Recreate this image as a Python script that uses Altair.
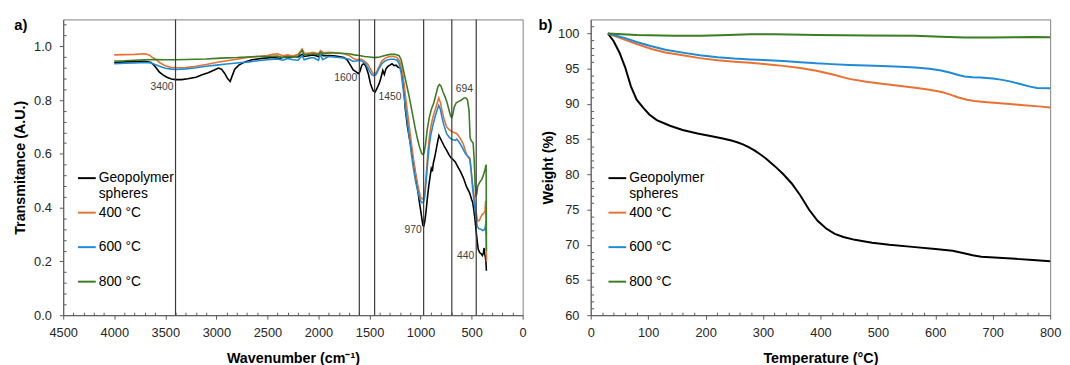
import altair as alt
import pandas as pd

SERIES = ["Geopolymer spheres", "400 °C", "600 °C", "800 °C"]
COLORS = ["#000000", "#E97132", "#1F8AD6", "#3B7D23"]
FONT = "Liberation Sans"

# ---------------- FTIR (panel a) ----------------
geo_wn = [4000, 3900, 3800, 3700, 3640, 3600, 3560, 3520, 3480, 3440, 3400, 3340, 3280, 3200, 3140,
          3080, 3020, 2980, 2950, 2920, 2890, 2865, 2845, 2820, 2780, 2720, 2650, 2550, 2450, 2380,
          2340, 2300, 2250, 2200, 2160, 2140, 2100, 2050, 2000, 1980, 1950, 1900, 1850, 1800, 1750,
          1720, 1690, 1660, 1630, 1610, 1595, 1575, 1555, 1535, 1510, 1490, 1465, 1445, 1425, 1405,
          1390, 1370, 1355, 1340, 1320, 1300, 1280, 1260, 1240, 1220, 1200, 1180, 1165, 1150, 1130,
          1110, 1090, 1065, 1040, 1015, 995, 978, 970, 960, 948, 935, 920, 905, 895, 885,
          875, 860, 845, 830, 820, 810, 790, 770, 740, 720, 700, 680, 660, 640, 610,
          580, 550, 520, 500, 490, 478, 468, 455, 445, 435, 420, 405, 395, 385, 378,
          372, 365, 360, 355]
geo_tr = [0.940, 0.942, 0.943, 0.944, 0.940, 0.925, 0.905, 0.893, 0.884, 0.878, 0.876, 0.876, 0.879, 0.885, 0.894,
          0.902, 0.912, 0.919, 0.915, 0.900, 0.880, 0.869, 0.890, 0.915, 0.930, 0.942, 0.950, 0.955, 0.958, 0.955,
          0.960, 0.958, 0.962, 0.960, 0.970, 0.962, 0.965, 0.968, 0.962, 0.970, 0.965, 0.966, 0.965, 0.962, 0.958,
          0.950, 0.932, 0.912, 0.905, 0.898, 0.905, 0.930, 0.936, 0.925, 0.895, 0.860, 0.835, 0.830, 0.845, 0.862,
          0.880, 0.910, 0.895, 0.915, 0.925, 0.930, 0.935, 0.928, 0.930, 0.922, 0.920, 0.900, 0.850, 0.770, 0.705,
          0.660, 0.620, 0.560, 0.500, 0.430, 0.380, 0.335, 0.330, 0.345, 0.380, 0.430, 0.480, 0.520, 0.545, 0.535,
          0.565, 0.590, 0.620, 0.650, 0.668, 0.660, 0.645, 0.630, 0.610, 0.595, 0.585, 0.578, 0.570, 0.555, 0.535,
          0.510, 0.478, 0.455, 0.430, 0.420, 0.390, 0.360, 0.310, 0.275, 0.245, 0.232, 0.228, 0.222, 0.230, 0.250,
          0.228, 0.215, 0.200, 0.165]

c400_wn = [4000, 3900, 3800, 3700, 3660, 3630, 3590, 3550, 3500, 3450, 3400, 3300, 3200, 3100, 3000,
           2900, 2800, 2700, 2600, 2500, 2450, 2400, 2350, 2300, 2250, 2200, 2160, 2140, 2100, 2050,
           2000, 1980, 1950, 1900, 1850, 1800, 1750, 1700, 1660, 1630, 1600, 1580, 1550, 1520, 1490,
           1465, 1450, 1430, 1410, 1380, 1350, 1320, 1290, 1260, 1230, 1205, 1185, 1165, 1150, 1130,
           1110, 1090, 1070, 1045, 1020, 1000, 985, 970, 958, 945, 930, 915, 900, 880, 860,
           840, 822, 805, 790, 770, 745, 720, 700, 680, 660, 645, 625, 600, 580, 560,
           545, 530, 515, 500, 485, 470, 455, 440, 425, 410, 395, 380, 370, 362, 358,
           355]
c400_tr = [0.968, 0.969, 0.970, 0.972, 0.968, 0.960, 0.950, 0.938, 0.928, 0.922, 0.920, 0.921, 0.926, 0.932, 0.940,
           0.946, 0.952, 0.958, 0.962, 0.966, 0.970, 0.972, 0.965, 0.968, 0.964, 0.970, 0.990, 0.975, 0.974, 0.978,
           0.972, 0.984, 0.976, 0.978, 0.977, 0.975, 0.972, 0.966, 0.955, 0.950, 0.952, 0.952, 0.945, 0.935, 0.915,
           0.898, 0.895, 0.905, 0.922, 0.945, 0.955, 0.960, 0.962, 0.962, 0.958, 0.945, 0.920, 0.870, 0.820, 0.760,
           0.700, 0.640, 0.580, 0.520, 0.470, 0.440, 0.432, 0.436, 0.460, 0.520, 0.600, 0.660, 0.700, 0.735, 0.760,
           0.785, 0.808, 0.790, 0.760, 0.730, 0.700, 0.690, 0.685, 0.680, 0.678, 0.675, 0.665, 0.650, 0.635, 0.610,
           0.595, 0.585, 0.580, 0.520, 0.470, 0.430, 0.380, 0.350, 0.352, 0.365, 0.375, 0.380, 0.385, 0.425, 0.300,
           0.200]

c600_wn = [4000, 3900, 3800, 3700, 3640, 3600, 3550, 3500, 3440, 3400, 3300, 3200, 3100, 3000, 2900,
           2800, 2700, 2600, 2500, 2400, 2350, 2300, 2250, 2200, 2160, 2140, 2100, 2050, 2000, 1980,
           1960, 1900, 1850, 1800, 1750, 1700, 1660, 1630, 1600, 1570, 1540, 1510, 1480, 1455, 1435,
           1410, 1380, 1350, 1320, 1290, 1260, 1230, 1210, 1190, 1170, 1150, 1130, 1110, 1090, 1070,
           1045, 1020, 1000, 985, 970, 958, 945, 930, 915, 900, 880, 860, 840, 822, 805,
           790, 770, 745, 720, 700, 680, 660, 645, 625, 600, 580, 560, 540, 520, 505,
           490, 475, 460, 445, 430, 410, 390, 375, 365, 360, 356]
c600_tr = [0.935, 0.937, 0.938, 0.940, 0.938, 0.932, 0.925, 0.918, 0.915, 0.914, 0.916, 0.920, 0.926, 0.930, 0.934,
           0.938, 0.941, 0.946, 0.950, 0.953, 0.948, 0.955, 0.950, 0.948, 0.965, 0.950, 0.955, 0.958, 0.948, 0.972,
           0.950, 0.962, 0.960, 0.958, 0.956, 0.952, 0.944, 0.945, 0.948, 0.944, 0.935, 0.915, 0.895, 0.890, 0.895,
           0.915, 0.935, 0.945, 0.950, 0.952, 0.952, 0.948, 0.935, 0.900, 0.840, 0.780, 0.720, 0.660, 0.600, 0.545,
           0.490, 0.450, 0.425, 0.418, 0.422, 0.445, 0.500, 0.570, 0.630, 0.670, 0.705, 0.735, 0.760, 0.780, 0.765,
           0.735, 0.705, 0.675, 0.662, 0.655, 0.652, 0.650, 0.655, 0.645, 0.630, 0.615, 0.600, 0.592, 0.585, 0.540,
           0.470, 0.420, 0.370, 0.330, 0.322, 0.320, 0.315, 0.318, 0.330, 0.350, 0.300]

c800_wn = [4000, 3900, 3800, 3700, 3600, 3500, 3400, 3300, 3200, 3100, 3000, 2900, 2800, 2700, 2600,
           2500, 2400, 2350, 2300, 2250, 2200, 2160, 2140, 2100, 2050, 2000, 1980, 1950, 1900, 1850,
           1800, 1750, 1700, 1650, 1600, 1550, 1500, 1450, 1400, 1350, 1300, 1250, 1210, 1190, 1170,
           1150, 1130, 1110, 1090, 1070, 1050, 1030, 1010, 990, 975, 965, 950, 935, 915, 895,
           870, 850, 830, 815, 800, 780, 760, 740, 720, 705, 695, 685, 670, 650, 625,
           600, 575, 555, 540, 525, 515, 505, 495, 485, 475, 465, 458, 450, 440, 420,
           400, 385, 370, 358, 355]
c800_tr = [0.945, 0.946, 0.948, 0.950, 0.951, 0.950, 0.950, 0.951, 0.952, 0.953, 0.955, 0.957, 0.958, 0.960, 0.962,
           0.962, 0.964, 0.958, 0.962, 0.960, 0.964, 0.985, 0.968, 0.970, 0.972, 0.970, 0.978, 0.972, 0.975, 0.975,
           0.974, 0.973, 0.972, 0.968, 0.966, 0.962, 0.960, 0.958, 0.960, 0.966, 0.970, 0.970, 0.965, 0.950, 0.915,
           0.880, 0.845, 0.810, 0.770, 0.730, 0.690, 0.655, 0.625, 0.602, 0.597, 0.605, 0.640, 0.690, 0.735, 0.765,
           0.790, 0.820, 0.850, 0.858, 0.852, 0.830, 0.812, 0.790, 0.760, 0.740, 0.735, 0.745, 0.775, 0.790, 0.795,
           0.800, 0.808, 0.808, 0.800, 0.760, 0.660, 0.650, 0.645, 0.640, 0.580, 0.480, 0.445, 0.450, 0.480, 0.495,
           0.505, 0.520, 0.540, 0.560, 0.240]

peak_wn = [3400, 1600, 1450, 970, 694, 455]
peak_text = ["3400", "1600", "1450", "970", "694", "440"]
peak_text_y = [0.847, 0.883, 0.813, 0.317, 0.841, 0.220]
peak_text_side = ["left", "left", "right", "left", "right", "left"]

# ---------------- TGA (panel b) ----------------
geo_T = [30, 40, 50, 60, 70, 80, 92, 102, 115, 138, 160, 186, 215, 230, 245, 255, 265, 275, 285, 295,
         305, 320, 335, 350, 365, 380, 395, 410, 425, 440, 460, 490, 520, 560, 600, 630, 650, 665, 680,
         710, 740, 770, 800]
geo_W = [100, 98.9, 97.3, 95.2, 92.5, 90.6, 89.4, 88.5, 87.7, 86.9, 86.3, 85.8, 85.35, 85.1, 84.8, 84.55, 84.25, 83.85, 83.4, 82.85,
         82.25, 81.2, 80.05, 78.7, 77.0, 75.0, 73.4, 72.3, 71.55, 71.1, 70.7, 70.3, 70.0, 69.7, 69.4, 69.15, 68.8, 68.5, 68.3,
         68.15, 68.0, 67.85, 67.65]

c400_T = [30, 60, 80, 106, 130, 163, 190, 221, 250, 278, 310, 335, 365, 393, 420, 450, 480, 507, 540, 565,
          590, 611, 625, 639, 655, 668, 690, 708, 730, 754, 780, 800]
c400_W = [100, 99.1, 98.5, 97.8, 97.3, 96.88, 96.5, 96.2, 96.0, 95.85, 95.6, 95.4, 95.1, 94.7, 94.2, 93.55, 93.15, 92.85, 92.55, 92.3,
          92.0, 91.7, 91.35, 90.95, 90.6, 90.4, 90.25, 90.13, 90.0, 89.82, 89.65, 89.5]

c600_T = [30, 60, 80, 106, 130, 163, 190, 221, 250, 278, 310, 335, 365, 393, 420, 450, 480, 507, 540, 565,
          590, 610, 625, 640, 651, 665, 679, 700, 714, 730, 748, 765, 777, 800]
c600_W = [100, 99.34, 98.8, 98.18, 97.7, 97.25, 96.9, 96.64, 96.45, 96.32, 96.2, 96.09, 95.93, 95.76, 95.65, 95.53, 95.46, 95.39, 95.28, 95.16,
          95.0, 94.75, 94.45, 94.1, 93.9, 93.8, 93.76, 93.6, 93.45, 93.2, 92.83, 92.45, 92.27, 92.23]

c800_T = [30, 80, 146, 192, 240, 278, 320, 393, 480, 565, 610, 651, 700, 737, 770, 800]
c800_W = [100, 99.8, 99.67, 99.67, 99.8, 99.9, 99.88, 99.8, 99.72, 99.67, 99.55, 99.43, 99.42, 99.45, 99.5, 99.48]

# ticks
ftir_x_major = list(range(0, 4501, 500))
ftir_x_minor = [v for v in range(0, 4501, 100) if v % 500]
ftir_y_major = [0.0, 0.2, 0.4, 0.6, 0.8, 1.0]
ftir_y_minor = [round(i * 0.04, 2) for i in range(1, 28) if i % 5]
tga_x_major = list(range(0, 801, 100))
tga_x_minor = [v for v in range(20, 800, 20) if v % 100]
tga_y_major = list(range(60, 101, 5))
tga_y_minor = [v for v in range(61, 102) if v % 5]


def long_df(pairs, xn, yn):
    rows = []
    for name, xs, ys in pairs:
        for i, (xv, yv) in enumerate(zip(xs, ys)):
            rows.append({xn: xv, yn: yv, "series": name, "i": i})
    return pd.DataFrame(rows)


ftir = long_df([(SERIES[0], geo_wn, geo_tr), (SERIES[1], c400_wn, c400_tr),
                (SERIES[2], c600_wn, c600_tr), (SERIES[3], c800_wn, c800_tr)], "wn", "tr")
tga = long_df([(SERIES[0], geo_T, geo_W), (SERIES[1], c400_T, c400_W),
               (SERIES[2], c600_T, c600_W), (SERIES[3], c800_T, c800_W)], "T", "W")
peaks = pd.DataFrame({"wn": peak_wn, "label": peak_text, "ty": peak_text_y, "side": peak_text_side})

AXC = "#595959"


def major_axis(values, title, orient, fmt, lab_pad, title_pad):
    return alt.Axis(values=values, title=title, orient=orient, format=fmt, grid=False,
                    domainColor=AXC, tickColor=AXC, tickSize=4, labelPadding=lab_pad,
                    labelFont=FONT, labelFontSize=13, labelColor="#262626", labelFlush=False,
                    labelOverlap=False, titleFont=FONT, titleFontSize=14.5, titleFontWeight="bold",
                    titleColor="#000000", titlePadding=title_pad)


def minor_axis(values, orient):
    return alt.Axis(values=values, orient=orient, labels=False, domain=False, title=None,
                    grid=False, tickColor=AXC, tickSize=3, offset=-3)


def make_legend(x):
    return alt.Legend(orient="none", legendX=x, legendY=151, title=None, symbolType="stroke",
                      symbolSize=324, symbolStrokeWidth=2, labelFont=FONT, labelFontSize=14,
                      labelColor="#000000", labelOffset=2, labelLimit=200, gridAlign="all",
                      rowPadding=2, padding=0,
                      labelExpr="datum.label == 'Geopolymer spheres' ? ['Geopolymer', 'spheres'] : datum.label")


def color_enc(x):
    return alt.Color("series:N", scale=alt.Scale(domain=SERIES, range=COLORS), sort=SERIES,
                     legend=make_legend(x))


def panel_label(txt, dx):
    return alt.Chart(pd.DataFrame({"p": [txt]})).mark_text(
        font=FONT, fontSize=15, fontWeight="bold", align="center", baseline="middle", color="#000000"
    ).encode(text="p:N", x=alt.value(dx), y=alt.value(6))


# ---- panel a ----
xa = alt.Scale(domain=[0, 4500], reverse=True, nice=False, zero=False)
ya = alt.Scale(domain=[0, 1.1], nice=False)

lines_a = alt.Chart(ftir).mark_line(strokeWidth=1.6).encode(
    x=alt.X("wn:Q", scale=xa, axis=major_axis(ftir_x_major, "Wavenumber (cm⁻¹)", "bottom", "d", 8, 12)),
    y=alt.Y("tr:Q", scale=ya, axis=major_axis(ftir_y_major, "Transmitance (A.U.)", "left", ".1f", 8, 6)),
    color=color_enc(14),
    order="i:Q",
)
rules_a = alt.Chart(peaks).mark_rule(color="#3a3a3a", strokeWidth=1.2).encode(
    x=alt.X("wn:Q", scale=xa, axis=None))
txt_left = alt.Chart(peaks).transform_filter("datum.side == 'left'").mark_text(
    align="right", dx=-2, baseline="middle", font=FONT, fontSize=10.5, color="#404040"
).encode(x=alt.X("wn:Q", scale=xa, axis=minor_axis(ftir_x_minor, "bottom")),
         y=alt.Y("ty:Q", scale=ya, axis=minor_axis(ftir_y_minor, "left")),
         text="label:N")
txt_right = alt.Chart(peaks).transform_filter("datum.side == 'right'").mark_text(
    align="left", dx=4, baseline="middle", font=FONT, fontSize=10.5, color="#404040"
).encode(x=alt.X("wn:Q", scale=xa, axis=None),
         y=alt.Y("ty:Q", scale=ya, axis=None),
         text="label:N")

panel_a = alt.layer(lines_a, rules_a, txt_left, txt_right, panel_label("a)", -43)).resolve_axis(
    x="independent", y="independent").properties(width=466, height=300)

# ---- panel b ----
xb = alt.Scale(domain=[0, 800], nice=False)
yb = alt.Scale(domain=[60, 102], nice=False, zero=False)

lines_b = alt.Chart(tga).mark_line(strokeWidth=2).encode(
    x=alt.X("T:Q", scale=xb, axis=major_axis(tga_x_major, "Temperature (°C)", "bottom", "d", 8, 12)),
    y=alt.Y("W:Q", scale=yb, axis=major_axis(tga_y_major, "Weight (%)", "left", "d", 8, 2)),
    color=color_enc(17),
    order="i:Q",
)
minor_b = alt.Chart(pd.DataFrame({"T": [0], "W": [60]})).mark_point(opacity=0).encode(
    x=alt.X("T:Q", scale=xb, axis=minor_axis(tga_x_minor, "bottom")),
    y=alt.Y("W:Q", scale=yb, axis=minor_axis(tga_y_minor, "left")))

panel_b = alt.layer(lines_b, minor_b, panel_label("b)", -46)).resolve_axis(
    x="independent", y="independent").properties(width=466, height=300)

chart = alt.hconcat(panel_a, panel_b, spacing=10).resolve_scale(
    color="independent").resolve_legend(color="independent").configure_view(
    stroke="#7f7f7f", strokeWidth=1).properties(
    padding={"left": 4, "top": 7, "right": 0, "bottom": 0})

chart.save("out.html", embed_options={"renderer": "svg", "actions": False})
